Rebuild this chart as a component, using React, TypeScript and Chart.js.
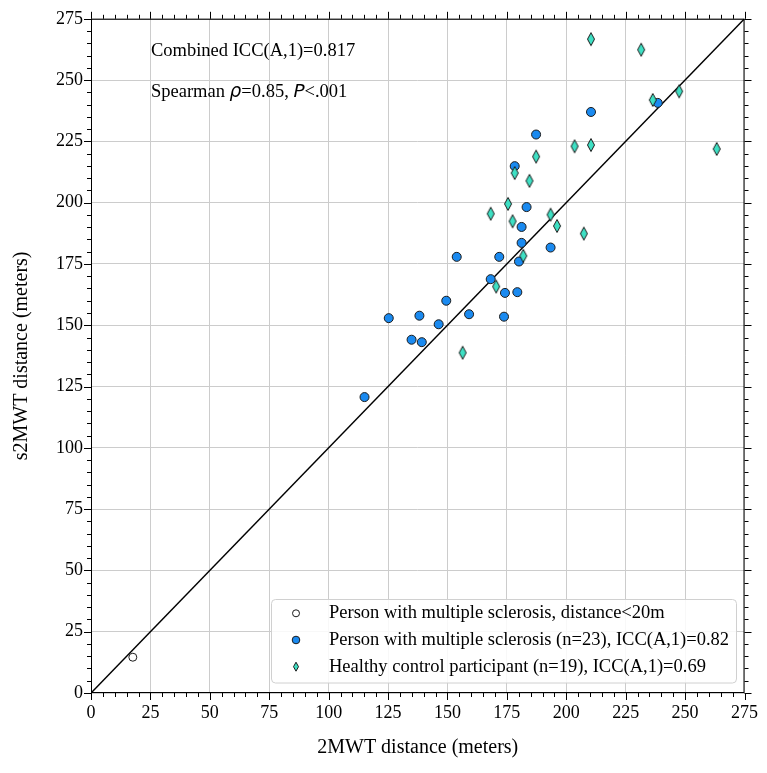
import React, { useEffect, useRef } from 'react';
import { Chart, registerables } from 'chart.js';

Chart.register(...registerables);

// ---- data ----
const lowDistX = [17.6];
const lowDistY = [14.6];

const msX = [115.1, 125.3, 134.9, 139.2, 138.2, 146.3, 149.5, 153.9, 159.1, 168.2, 171.8, 173.8, 174.2, 179.4, 180.1, 181.2, 181.2, 183.3, 178.3, 187.3, 193.4, 210.4, 238.5];
const msY = [120.7, 152.9, 144.1, 143.1, 153.9, 150.4, 160.0, 177.9, 154.5, 168.8, 177.9, 153.5, 163.2, 163.5, 176.0, 183.6, 190.1, 198.2, 214.9, 227.8, 181.7, 237.0, 240.7];

const hcX = [210.4, 231.5, 247.5, 236.4, 203.5, 210.4, 263.3, 187.3, 178.3, 184.5, 175.5, 168.2, 177.4, 193.4, 196.1, 207.4, 181.9, 170.5, 156.4];
const hcY = [266.7, 262.4, 245.4, 241.9, 223.0, 223.5, 221.9, 218.8, 212.1, 208.9, 199.5, 195.5, 192.4, 195.1, 190.5, 187.4, 178.3, 165.8, 138.8];

const identityLine = [0, 275];
const tickValues = [0, 25, 50, 75, 100, 125, 150, 175, 200, 225, 250, 275];
const minorStep = 5;

const legendLabels = [
  'Person with multiple sclerosis, distance<20m',
  'Person with multiple sclerosis (n=23), ICC(A,1)=0.82',
  'Healthy control participant (n=19), ICC(A,1)=0.69',
];
const xTitle = '2MWT distance (meters)';
const yTitle = 's2MWT distance (meters)';
const combinedText = 'Combined ICC(A,1)=0.817';

const FONT = "'Liberation Serif', 'Times New Roman', serif";
const BLUE = '#1a8af0';
const GREEN = '#3ee0c4';
const EDGE = '#1b1b1b';

function drawDiamond(ctx: CanvasRenderingContext2D, cx: number, cy: number, w: number, h: number) {
  ctx.beginPath();
  ctx.moveTo(cx, cy - h / 2);
  ctx.lineTo(cx + w / 2, cy);
  ctx.lineTo(cx, cy + h / 2);
  ctx.lineTo(cx - w / 2, cy);
  ctx.closePath();
  ctx.fillStyle = GREEN;
  ctx.fill();
  ctx.lineWidth = 1;
  ctx.strokeStyle = EDGE;
  ctx.stroke();
}

function makeDiamondImage(): HTMLCanvasElement {
  const c = document.createElement('canvas');
  c.width = 10;
  c.height = 16;
  const ctx = c.getContext('2d')!;
  drawDiamond(ctx, 5, 8, 7, 13);
  return c;
}

const framePlugin = {
  id: 'framePlugin',
  afterDatasetsDraw(chart: any) {
    const { ctx, chartArea: a, scales } = chart;
    const xs = scales.x;
    const ys = scales.y;
    ctx.save();
    ctx.strokeStyle = '#000';
    ctx.lineWidth = 1;
    ctx.strokeRect(a.left + 0.5, a.top + 0.5, a.right - a.left - 1, a.bottom - a.top - 1);
    ctx.beginPath();
    for (let v = 0; v <= 275; v += minorStep) {
      const major = v % 25 === 0;
      const len = major ? 7 : 4;
      const px = Math.round(xs.getPixelForValue(v)) + 0.5;
      const py = Math.round(ys.getPixelForValue(v)) + 0.5;
      ctx.moveTo(px, a.bottom);
      ctx.lineTo(px, a.bottom + len);
      ctx.moveTo(px, a.top);
      ctx.lineTo(px, a.top - len);
      ctx.moveTo(a.left, py);
      ctx.lineTo(a.left - len, py);
      ctx.moveTo(a.right, py);
      ctx.lineTo(a.right + len, py);
    }
    ctx.stroke();
    ctx.restore();
  },
  afterDraw(chart: any) {
    const { ctx, chartArea: a } = chart;
    ctx.save();
    ctx.fillStyle = '#000';
    ctx.font = `20px ${FONT}`;
    ctx.textAlign = 'center';
    ctx.textBaseline = 'middle';
    ctx.fillText(xTitle, (a.left + a.right) / 2, 748);
    ctx.save();
    ctx.translate(22, (a.top + a.bottom) / 2);
    ctx.rotate(-Math.PI / 2);
    ctx.fillText(yTitle, 0, 0);
    ctx.restore();

    ctx.textAlign = 'left';
    ctx.font = `18.5px ${FONT}`;
    ctx.fillText(combinedText, 151, 51.5);
    const parts: [string, boolean][] = [
      ['Spearman ', false],
      ['ρ', true],
      ['=0.85, ', false],
      ['P', true],
      ['<.001', false],
    ];
    let x = 151;
    for (const [t, it] of parts) {
      ctx.font = it ? `italic 18.5px 'DejaVu Sans', sans-serif` : `18.5px ${FONT}`;
      ctx.fillText(t, x, 92);
      x += ctx.measureText(t).width;
    }

    const lx = 271.5, ly = 599.5, lw = 465, lh = 83.5, r = 4;
    ctx.beginPath();
    ctx.moveTo(lx + r, ly);
    ctx.lineTo(lx + lw - r, ly);
    ctx.arcTo(lx + lw, ly, lx + lw, ly + r, r);
    ctx.lineTo(lx + lw, ly + lh - r);
    ctx.arcTo(lx + lw, ly + lh, lx + lw - r, ly + lh, r);
    ctx.lineTo(lx + r, ly + lh);
    ctx.arcTo(lx, ly + lh, lx, ly + lh - r, r);
    ctx.lineTo(lx, ly + r);
    ctx.arcTo(lx, ly, lx + r, ly, r);
    ctx.closePath();
    ctx.fillStyle = 'rgba(255,255,255,0.85)';
    ctx.fill();
    ctx.strokeStyle = '#d0d0d0';
    ctx.lineWidth = 1;
    ctx.stroke();

    const rows = [613.3, 640, 666.7];
    const mx = 296;
    ctx.beginPath();
    ctx.arc(mx, rows[0], 3.5, 0, Math.PI * 2);
    ctx.fillStyle = '#fff';
    ctx.fill();
    ctx.strokeStyle = EDGE;
    ctx.stroke();
    ctx.beginPath();
    ctx.arc(mx, rows[1], 3.8, 0, Math.PI * 2);
    ctx.fillStyle = BLUE;
    ctx.fill();
    ctx.strokeStyle = EDGE;
    ctx.stroke();
    drawDiamond(ctx, mx, rows[2], 5, 9);

    ctx.fillStyle = '#000';
    ctx.font = `18.5px ${FONT}`;
    ctx.textAlign = 'left';
    ctx.textBaseline = 'middle';
    legendLabels.forEach((t, i) => ctx.fillText(t, 329, rows[i]));
    ctx.restore();
  },
};

export default function App() {
  const ref = useRef<HTMLCanvasElement | null>(null);

  useEffect(() => {
    if (!ref.current) return;
    const diamond = makeDiamondImage();
    const toPts = (xs: number[], ys: number[]) => xs.map((x, i) => ({ x, y: ys[i] }));

    const tickCfg = {
      color: '#000',
      font: { family: FONT, size: 18 },
    };

    const chart = new Chart(ref.current, {
      type: 'scatter',
      data: {
        datasets: [
          {
            label: legendLabels[2],
            data: toPts(hcX, hcY),
            pointStyle: diamond as any,
            order: 1,
          },
          {
            label: legendLabels[1],
            data: toPts(msX, msY),
            pointStyle: 'circle',
            pointRadius: 4.5,
            pointBackgroundColor: BLUE,
            pointBorderColor: EDGE,
            pointBorderWidth: 1,
            order: 2,
          },
          {
            label: legendLabels[0],
            data: toPts(lowDistX, lowDistY),
            pointStyle: 'circle',
            pointRadius: 4,
            pointBackgroundColor: '#ffffff',
            pointBorderColor: EDGE,
            pointBorderWidth: 1,
            order: 3,
          },
          {
            label: 'identity',
            data: identityLine.map((v) => ({ x: v, y: v })),
            showLine: true,
            borderColor: '#000',
            borderWidth: 1.5,
            pointRadius: 0,
            order: 10,
          } as any,
        ],
      },
      options: {
        responsive: false,
        animation: false,
        devicePixelRatio: 1,
        layout: { padding: { top: 13, right: 21, left: 0, bottom: 0 } },
        plugins: {
          legend: { display: false },
          tooltip: { enabled: false },
        },
        scales: {
          x: {
            type: 'linear',
            min: 0,
            max: 275,
            afterBuildTicks: (s: any) => {
              s.ticks = tickValues.map((v) => ({ value: v }));
            },
            afterFit: (s: any) => {
              s.height = 80;
            },
            ticks: { ...tickCfg, padding: 9, maxRotation: 0, autoSkip: false },
            grid: { color: '#cccccc', lineWidth: 1, drawTicks: false },
            border: { display: false },
          },
          y: {
            type: 'linear',
            min: 0,
            max: 275,
            afterBuildTicks: (s: any) => {
              s.ticks = tickValues.map((v) => ({ value: v }));
            },
            afterFit: (s: any) => {
              s.width = 91;
            },
            ticks: { ...tickCfg, padding: 8, autoSkip: false },
            grid: { color: '#cccccc', lineWidth: 1, drawTicks: false },
            border: { display: false },
          },
        },
      } as any,
      plugins: [framePlugin],
    });

    return () => chart.destroy();
  }, []);

  return (
    <div style={{ position: 'absolute', left: 0, top: 0, width: 767, height: 773, background: '#fff' }}>
      <canvas ref={ref} width={767} height={773} style={{ display: 'block' }} />
    </div>
  );
}
